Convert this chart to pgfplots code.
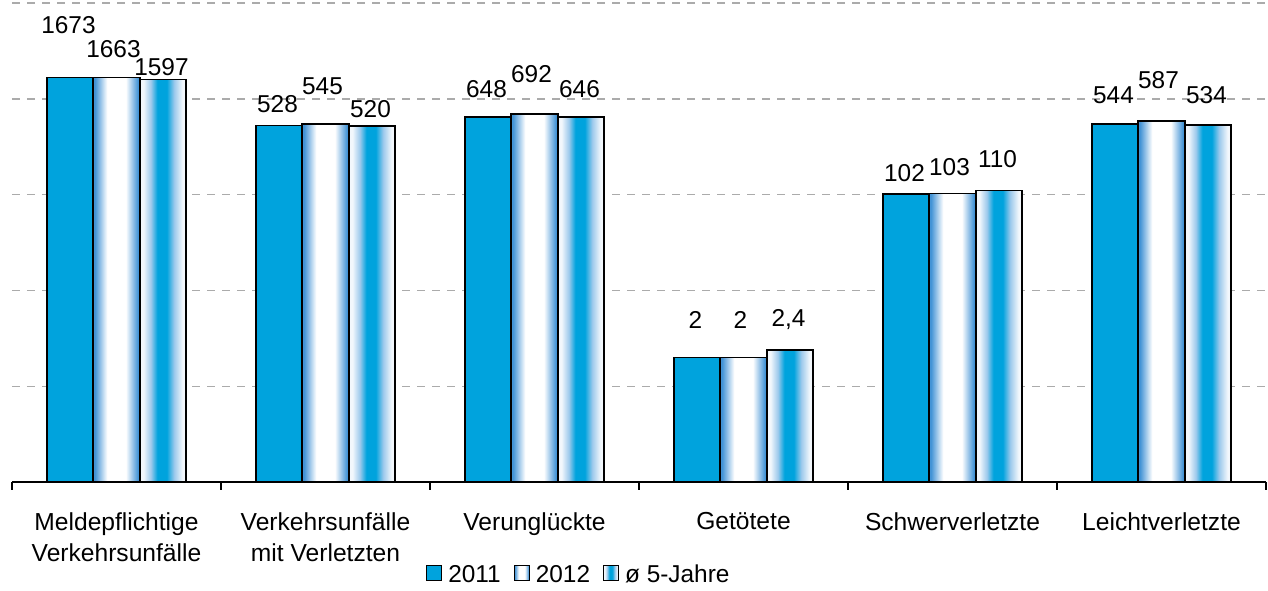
\documentclass[border=0pt]{standalone}
\usepackage{pgfplots}
\pgfplotsset{compat=1.18}
\usepackage{pgfplotstable}
\usepackage{fontspec}
\setmainfont{Liberation Sans}

\definecolor{cA}{HTML}{00A3DD}
\definecolor{cBedge}{HTML}{4494D6}
\definecolor{cClight}{HTML}{F2F7FC}
\definecolor{cCmid}{HTML}{9CC9EC}
\definecolor{gridc}{HTML}{ABABAB}

\pgfdeclarehorizontalshading{shB}{100bp}{color(0bp)=(cBedge); color(25bp)=(cBedge); color(27bp)=(cBedge); color(40bp)=(white); color(60bp)=(white); color(73bp)=(cBedge); color(75bp)=(cBedge); color(100bp)=(cBedge)}
\pgfdeclarehorizontalshading{shC}{100bp}{color(0bp)=(cClight); color(25bp)=(cClight); color(29bp)=(cClight); color(37bp)=(cCmid); color(44bp)=(cA); color(54bp)=(cA); color(62bp)=(cCmid); color(71bp)=(cClight); color(75bp)=(cClight); color(100bp)=(cClight)}

\pgfplotstableread{
x y lab off
0 1673 1673 44
1 528 528 13
2 648 648 19
3 2 2 29
4 102 102 12
5 544 544 21
}\tA
\pgfplotstableread{
x y lab off
0 1663 1663 20
1 545 545 30
2 692 692 32
3 2 2 29
4 103 103 18
5 587 587 32
}\tB
\pgfplotstableread{
x y lab off
0 1597 1597 4
1 520 520 9
2 646 646 19
3 2.4 2,4 23
4 110 110 23
5 534 534 21
}\tC

\pgfplotsset{
  barA/.style={ybar, bar width=23.25pt, bar shift=-23.25pt, draw=black, line width=0.8pt, fill=cA,
    every node near coord/.append style={xshift=-24pt}},
  barB/.style={ybar, bar width=23.25pt, bar shift=0pt, draw=black, line width=0.8pt, shade, shading=shB,
    every node near coord/.append style={xshift=-1.5pt}},
  barC/.style={ybar, bar width=23.25pt, bar shift=23.25pt, draw=black, line width=0.8pt, shade, shading=shC,
    every node near coord/.append style={xshift=22.5pt}},
}

\begin{document}
\begin{tikzpicture}
\begin{axis}[
  name=ax,
  scale only axis,
  width=627pt, height=239.5pt,
  ymode=log, ymin=0.1, ymax=10000, log origin=infty,
  xmin=-0.5, xmax=5.5, enlargelimits=false,
  clip=false,
  axis x line*=bottom, axis y line*=left,
  y axis line style={draw=none},
  x axis line style={line width=0.6pt, black},
  ytick={1,10,100,1000,10000}, yticklabels=\empty,
  ytick style={draw=none},
  ymajorgrids,
  grid style={gridc, line width=0.7pt, dash pattern=on 4pt off 3.5pt},
  xtick={0,...,5},
  xticklabels={{Meldepflichtige\\Verkehrsunfälle},{Verkehrsunfälle\\mit Verletzten},{Verunglückte},{Getötete},{Schwerverletzte},{Leichtverletzte}},
  major x tick style={draw=none},
  minor xtick={-0.5,0.5,...,5.5},
  minor x tick style={black, line width=0.6pt},
  minor tick length=4pt,
  tick align=outside,
  xtick pos=bottom,
  xticklabel style={align=center, font=\fontsize{12.3}{15.5}\selectfont, anchor=north, yshift=-7.5pt},
  point meta=explicit symbolic,
  nodes near coords={\pgfplotspointmeta},
  visualization depends on={0.5*\thisrow{off} \as \myoff},
  every node near coord/.append style={anchor=base, text=black, font=\fontsize{12.2}{14}\selectfont, yshift=\myoff pt},
  legend columns=3,
  legend style={draw=none, fill=none, at={(axis description cs:0.4525,-0.158)}, anchor=north,
    font=\fontsize{12.2}{14}\selectfont,
    /tikz/every even column/.append style={column sep=5pt},
    /tikz/every odd column/.append style={column sep=1.5pt},
    nodes={inner sep=1.5pt}},
  legend image code/.code={\draw[#1, line width=0.5pt] (0pt,-2.5pt) rectangle (7.5pt,5pt);},
]
\addplot[barA, restrict x to domain=0:0] table[x=x, y=y, meta=lab] {\tA};
\addplot[barB, restrict x to domain=0:0] table[x=x, y=y, meta=lab] {\tB};
\addplot[barC, restrict x to domain=0:0] table[x=x, y=y, meta=lab] {\tC};
\pgfplotsinvokeforeach{1,...,5}{
  \addplot[barA, forget plot, restrict x to domain=#1:#1] table[x=x, y=y, meta=lab] {\tA};
  \addplot[barB, forget plot, restrict x to domain=#1:#1] table[x=x, y=y, meta=lab] {\tB};
  \addplot[barC, forget plot, restrict x to domain=#1:#1] table[x=x, y=y, meta=lab] {\tC};
}
\legend{2011,2012,ø 5-Jahre}
\end{axis}
\pgfresetboundingbox
\path[use as bounding box] ([xshift=-6pt, yshift=-54pt]ax.south west) rectangle ([xshift=1pt, yshift=1.5pt]ax.north east);
\end{tikzpicture}
\end{document}
